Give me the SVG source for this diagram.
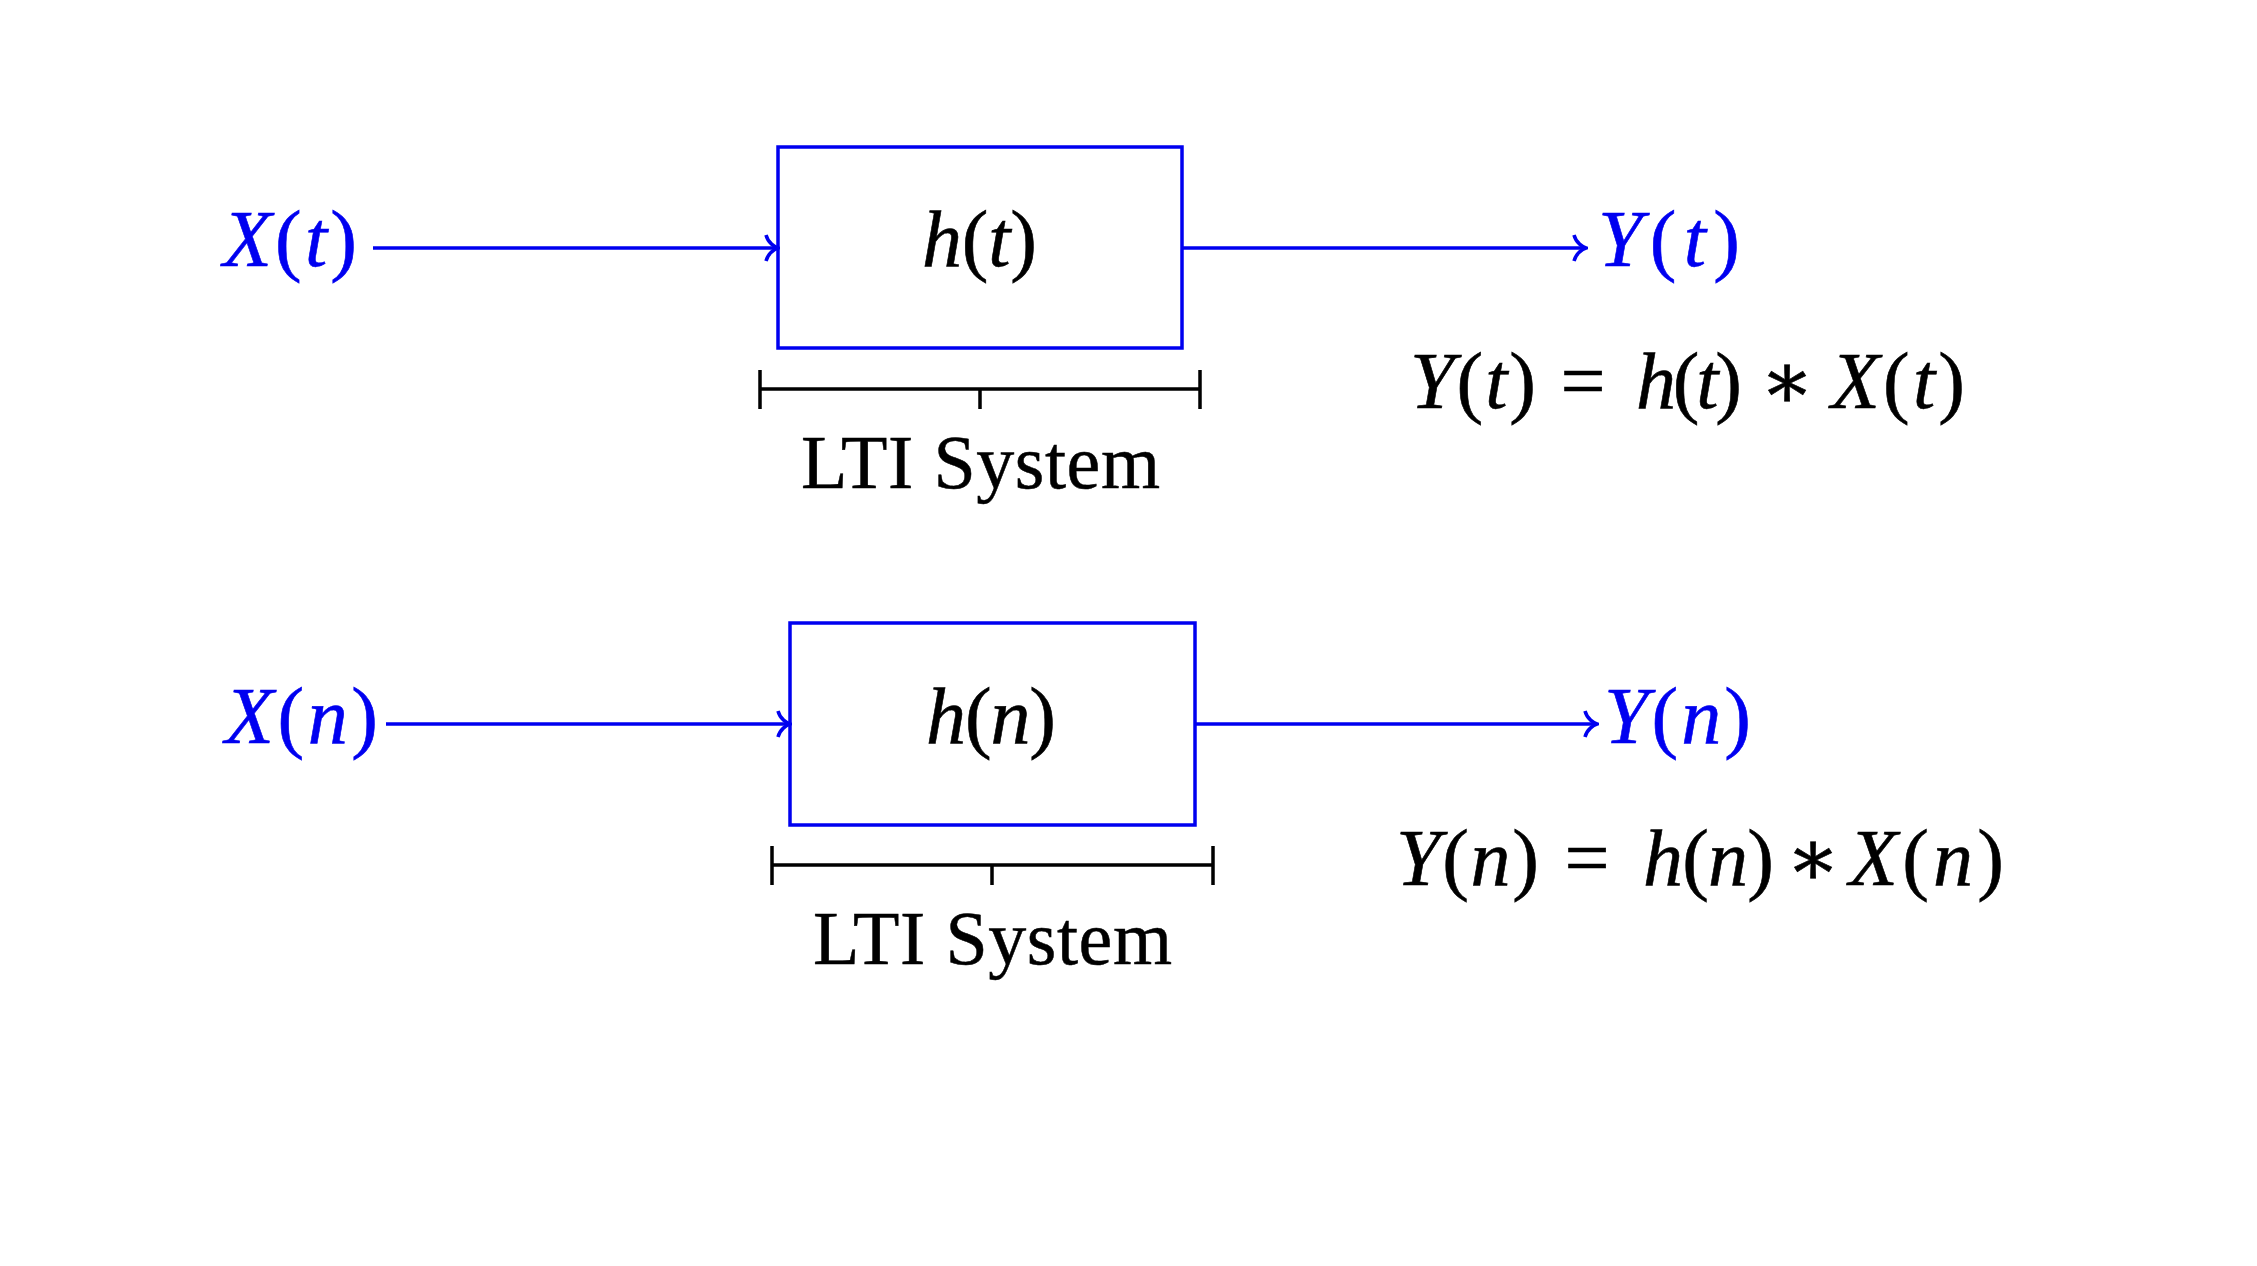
<svg xmlns="http://www.w3.org/2000/svg" width="2257" height="1266" viewBox="0 0 2257 1266">
<defs>
<style>
.blk{fill:none;stroke:#0000f0;stroke-width:3.5}
.wire{fill:none;stroke:#0000f0;stroke-width:3.5}
.brace{fill:none;stroke:#000;stroke-width:3.5}
.m{font-family:"Liberation Serif","DejaVu Serif",serif;font-size:80px}
.i{font-style:italic}
.blue{fill:#0000f0;stroke:#0000f0;stroke-width:0.6}
.black{fill:#000;stroke:#000;stroke-width:0.6}
.lbl{font-family:"Liberation Serif","DejaVu Serif",serif;font-size:76px;fill:#000;stroke:#000;stroke-width:0.5}
</style>
<marker id="arr" viewBox="-16 -16 18 32" markerWidth="18" markerHeight="32" refX="0" refY="0" orient="auto" markerUnits="userSpaceOnUse">
<path d="M-12,-13 C-10,-5 -3,-1 0,0 C-3,1 -10,5 -12,13" fill="none" stroke="#0000f0" stroke-width="3.5"/>
</marker>
</defs>
<rect width="2257" height="1266" fill="#fff"/>

<g id="connectors">
<line class="wire" x1="373" y1="248" x2="778" y2="248" marker-end="url(#arr)"/>
<line class="wire" x1="1182" y1="248" x2="1586" y2="248" marker-end="url(#arr)"/>
<line class="wire" x1="386" y1="724" x2="790" y2="724" marker-end="url(#arr)"/>
<line class="wire" x1="1195" y1="724" x2="1597" y2="724" marker-end="url(#arr)"/>
</g>

<g id="input-t"><text class="m blue" x="223" y="266" textLength="134"><tspan class="i">X</tspan>(<tspan class="i">t</tspan>)</text></g>
<g id="system-t">
<rect class="blk" x="778" y="147" width="404" height="201"/>
<text class="m black" x="922" y="266" textLength="115"><tspan class="i">h</tspan>(<tspan class="i">t</tspan>)</text>
</g>
<g id="output-t"><text class="m blue" x="1598" y="266" textLength="142"><tspan class="i">Y</tspan>(<tspan class="i">t</tspan>)</text></g>
<g id="brace-t">
<path class="brace" d="M760,389 H1200 M760,370 V409 M1200,370 V409 M980,389 V409"/>
<text class="lbl" x="801" y="488" textLength="359">LTI System</text>
</g>
<g id="equation-t">
<text class="m black" x="1410" y="408" textLength="126"><tspan class="i">Y</tspan>(<tspan class="i">t</tspan>)</text>
<text class="m black" x="1583" y="408" text-anchor="middle">=</text>
<text class="m black" x="1636" y="408" textLength="106"><tspan class="i">h</tspan>(<tspan class="i">t</tspan>)</text>
<text class="m black" x="1787" y="408" text-anchor="middle">∗</text>
<text class="m black" x="1831" y="408" textLength="134"><tspan class="i">X</tspan>(<tspan class="i">t</tspan>)</text>
</g>

<g id="input-n"><text class="m blue" x="225" y="743" textLength="153"><tspan class="i">X</tspan>(<tspan class="i">n</tspan>)</text></g>
<g id="system-n">
<rect class="blk" x="790" y="623" width="405" height="202"/>
<text class="m black" x="926" y="743" textLength="130"><tspan class="i">h</tspan>(<tspan class="i">n</tspan>)</text>
</g>
<g id="output-n"><text class="m blue" x="1604" y="743" textLength="147"><tspan class="i">Y</tspan>(<tspan class="i">n</tspan>)</text></g>
<g id="brace-n">
<path class="brace" d="M772,865 H1213 M772,846 V885 M1213,846 V885 M992,865 V885"/>
<text class="lbl" x="813" y="964" textLength="359">LTI System</text>
</g>
<g id="equation-n">
<text class="m black" x="1396" y="885" textLength="143"><tspan class="i">Y</tspan>(<tspan class="i">n</tspan>)</text>
<text class="m black" x="1587" y="885" text-anchor="middle">=</text>
<text class="m black" x="1643" y="885" textLength="131"><tspan class="i">h</tspan>(<tspan class="i">n</tspan>)</text>
<text class="m black" x="1813" y="885" text-anchor="middle">∗</text>
<text class="m black" x="1849" y="885" textLength="155"><tspan class="i">X</tspan>(<tspan class="i">n</tspan>)</text>
</g>
</svg>
